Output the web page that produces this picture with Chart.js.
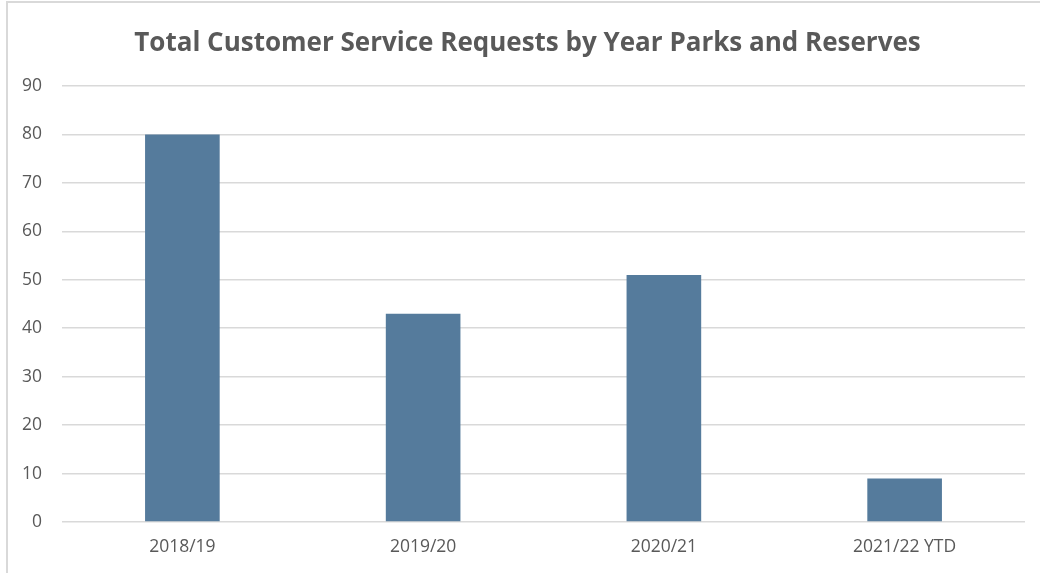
<!DOCTYPE html>
<html>
<head>
<meta charset="utf-8">
<script src="https://cdn.jsdelivr.net/npm/chart.js@4/dist/chart.umd.min.js"></script>
<style>
  html, body { margin: 0; padding: 0; background: #fff; overflow: hidden; }
  #wrap { position: relative; width: 1040px; height: 573px; }
  #frame { position: absolute; left: 6px; top: 1px; width: 1100px; height: 620px; border: 2px solid #d9d9d9; box-sizing: border-box; }
  canvas { position: absolute; left: 0; top: 0; }
</style>
</head>
<body>
<div id="wrap">
  <div id="frame"></div>
  <canvas id="chart" width="1040" height="573"></canvas>
</div>
<script>
const categories = ['2018/19', '2019/20', '2020/21', '2021/22 YTD'];
const requests = [80, 43, 51, 9];
const titleText = 'Total Customer Service Requests by Year Parks and Reserves';

const ctx = document.getElementById('chart');
new Chart(ctx, {
  type: 'bar',
  data: {
    labels: categories,
    datasets: [{
      data: requests,
      backgroundColor: '#557b9c',
      categoryPercentage: 1,
      barPercentage: 0.31
    }]
  },
  options: {
    responsive: false,
    animation: false,
    layout: { padding: { left: 15, right: 0, top: 0, bottom: 0 } },
    plugins: {
      legend: { display: false },
      tooltip: { enabled: false },
      title: {
        display: true,
        text: titleText,
        color: '#595959',
        font: { family: 'Open Sans', size: 26, weight: 'bold', lineHeight: 1.2 },
        padding: { top: 28, bottom: 26.8 }
      }
    },
    scales: {
      x: {
        grid: { display: false, drawTicks: false },
        border: { display: false },
        ticks: { color: '#595959', font: { family: 'Open Sans', size: 17.5 }, padding: 15, maxRotation: 0 },
        afterFit: (s) => { s.height = 51; }
      },
      y: {
        min: 0,
        max: 90,
        ticks: { stepSize: 10, color: '#595959', font: { family: 'Open Sans', size: 17.5 }, padding: 20 },
        grid: { color: '#d9d9d9', lineWidth: 1.5, drawTicks: false },
        border: { display: false },
        afterFit: (s) => { s.width = 47; }
      },
      // empty right-hand spacer so the plot ends where the reference does
      spacer: {
        position: 'right',
        min: 0,
        max: 90,
        ticks: { display: false },
        grid: { display: false, drawTicks: false },
        border: { display: false },
        afterFit: (s) => { s.width = 15; }
      }
    }
  }
});
</script>
</body>
</html>
